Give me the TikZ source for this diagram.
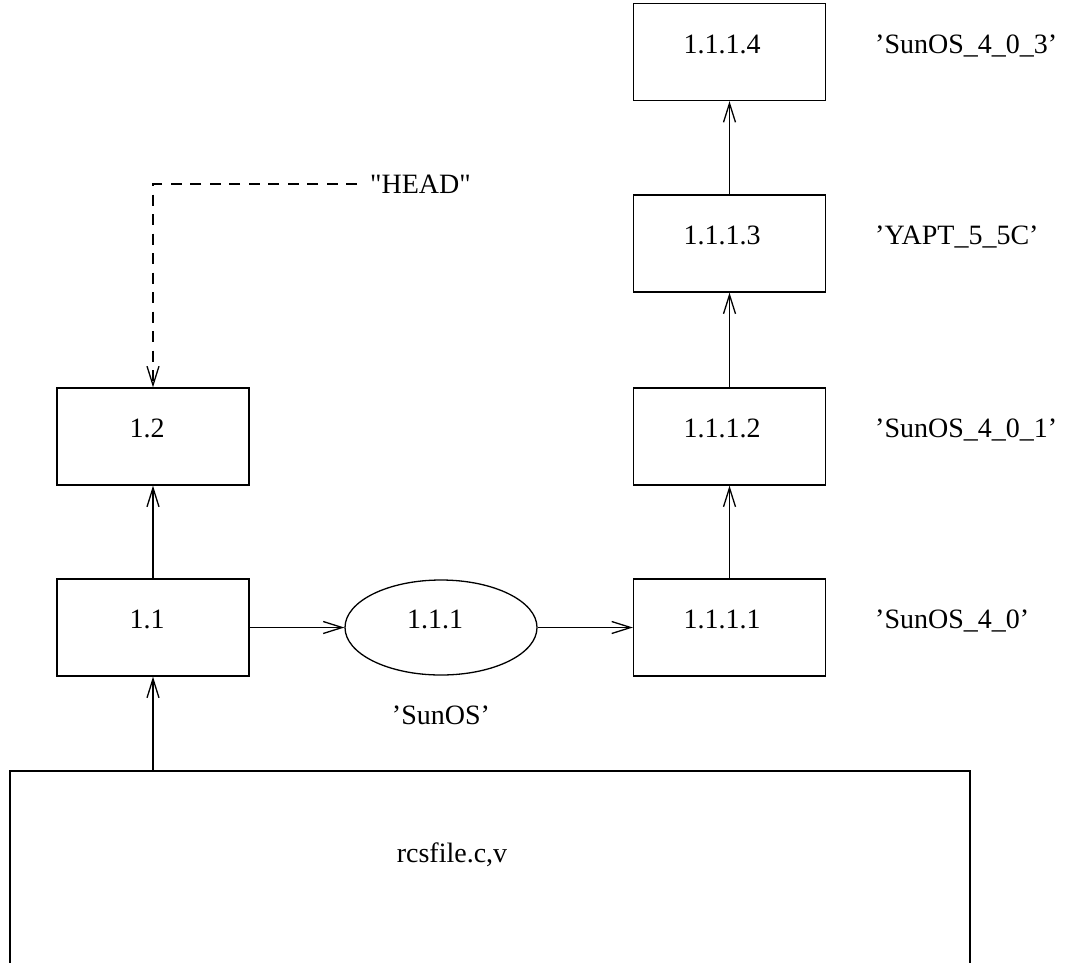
\documentclass[tikz,border=0pt]{standalone}
\usepackage{fontspec}
\setmainfont{Liberation Serif}
\newfontfamily\rawserif{Liberation Serif}
\usetikzlibrary{arrows.meta,shapes.geometric,calc}
\begin{document}
\begin{tikzpicture}[x=1pt,y=-1pt,
  every node/.style={font=\fontsize{28}{32}\selectfont},
  box/.style={draw,line width=1.3pt,minimum width=192pt,minimum height=97pt,inner sep=0pt},
  oval/.style={draw,ellipse,line width=1.3pt,minimum width=192pt,minimum height=95pt,inner sep=0pt},
  lbl/.style={anchor=base,inner sep=0pt},
  tag/.style={anchor=base west,inner sep=0pt},
  conn/.style={line width=1.3pt,-{Straight Barb[length=19pt,width=12pt,line width=1.3pt]}},
  dashconn/.style={conn,dash pattern=on 11pt off 8.5pt}
]
\useasboundingbox (0,0) rectangle (1068,962);
\clip (0,0) rectangle (1068,962);
% boxes
\node[box] (n12) at (153,436.5) {};
\node[box] (n11) at (153,627.5) {};
\node[oval] (n111) at (441,627.5) {};
\node[box] (n1111) at (729.5,627.5) {};
\node[box] (n1112) at (729.5,436.5) {};
\node[box] (n1113) at (729.5,243.5) {};
\node[box] (n1114) at (729.5,52) {};
\node[draw,line width=1.3pt,minimum width=960pt,minimum height=400pt,inner sep=0pt] (rcs) at (490,971) {};
% texts in shapes
\node[lbl] (t12) at (147,437) {1.2};
\node[lbl] (t11) at (147,628) {1.1};
\node[lbl] (t111) at (435,628) {1.1.1};
\node[lbl] (t1111) at (722,628) {1.1.1.1};
\node[lbl] (t1112) at (722,437) {1.1.1.2};
\node[lbl] (t1113) at (722,244) {1.1.1.3};
\node[lbl] (t1114) at (722,53) {1.1.1.4};
\node[lbl] (trcs) at (452,862) {rcsfile.c,v};
% tags
\node[tag] (g4) at (875,53) {'SunOS\_4\_0\_3'};
\node[tag] (g3) at (875,244) {'YAPT\_5\_5C'};
\node[tag] (g2) at (875,437) {'SunOS\_4\_0\_1'};
\node[tag] (g1) at (875,628) {'SunOS\_4\_0'};
\node[lbl] (gs) at (441,724) {'SunOS'};
\node[anchor=west,inner sep=0pt] (head) at (370,184) {\rawserif "HEAD"};
% connectors
\draw[conn] (rcs.north -| n11) -- (n11.south);
\draw[conn] (n11.north) -- (n12.south);
\draw[conn] (n11.east) -- (n111.west);
\draw[conn] (n111.east) -- (n1111.west);
\draw[conn] (n1111.north) -- (n1112.south);
\draw[conn] (n1112.north) -- (n1113.south);
\draw[conn] (n1113.north) -- (n1114.south);
\draw[dashconn,shorten <=13pt] (head.west) -| (n12.north);
\end{tikzpicture}
\end{document}
